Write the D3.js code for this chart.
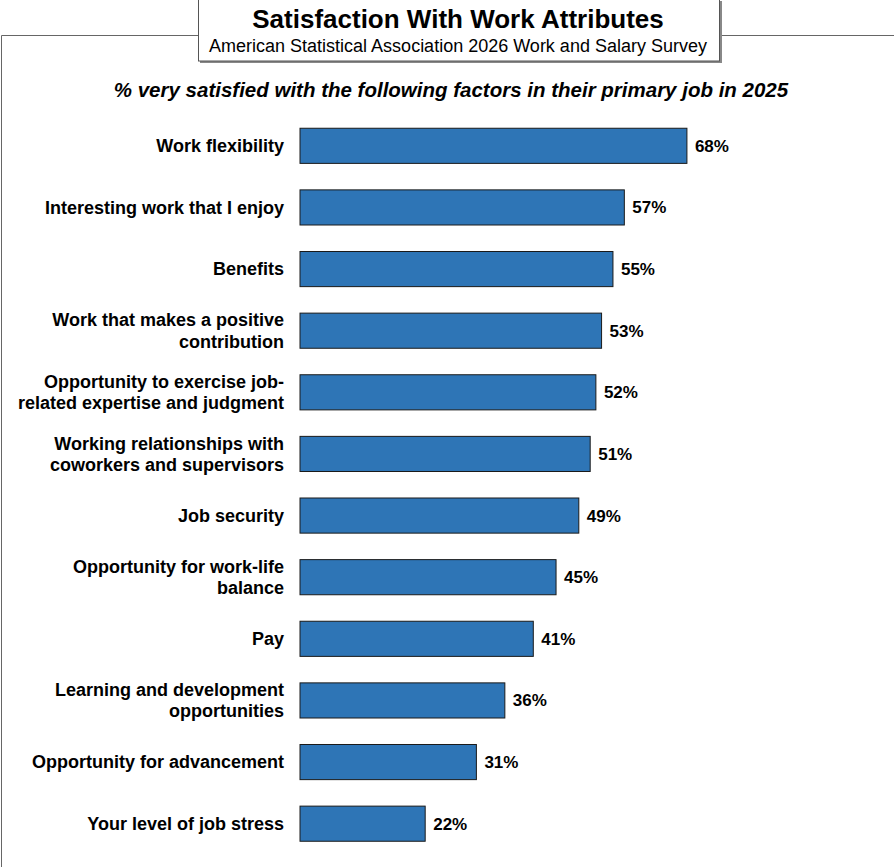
<!DOCTYPE html>
<html>
<head>
<meta charset="utf-8">
<script src="https://cdn.jsdelivr.net/npm/d3@7"></script>
<style>
  body { margin: 0; background: #fff; }
  svg { display: block; font-family: "Liberation Sans", Arial, sans-serif; }
</style>
</head>
<body>
<svg id="chart" width="894" height="867"></svg>
<script>
// satisfaction with work attributes, horizontal bars

const categories = [
  ["Work flexibility"],
  ["Interesting work that I enjoy"],
  ["Benefits"],
  ["Work that makes a positive", "contribution"],
  ["Opportunity to exercise job-", "related expertise and judgment"],
  ["Working relationships with", "coworkers and supervisors"],
  ["Job security"],
  ["Opportunity for work-life", "balance"],
  ["Pay"],
  ["Learning and development", "opportunities"],
  ["Opportunity for advancement"],
  ["Your level of job stress"]
];
const values = [68, 57, 55, 53, 52, 51, 49, 45, 41, 36, 31, 22];

const svg = d3.select("#chart");

// frame lines
svg.append("path")
  .attr("d", "M894,35.5 H1.5 V867")
  .attr("fill", "none")
  .attr("stroke", "#666")
  .attr("stroke-width", 1);

// title box with a small shadow
svg.append("rect")
  .attr("x", 200).attr("y", 1)
  .attr("width", 522).attr("height", 62)
  .attr("fill", "#888");
svg.append("rect")
  .attr("x", 198.5).attr("y", -1)
  .attr("width", 521).attr("height", 62)
  .attr("fill", "#fff")
  .attr("stroke", "#555")
  .attr("stroke-width", 1);

svg.append("text")
  .attr("x", 458).attr("y", 28)
  .attr("text-anchor", "middle")
  .attr("font-size", "26px")
  .attr("font-weight", "bold")
  .attr("fill", "#000")
  .text("Satisfaction With Work Attributes");

svg.append("text")
  .attr("x", 458).attr("y", 52)
  .attr("text-anchor", "middle")
  .attr("font-size", "18px")
  .attr("fill", "#000")
  .text("American Statistical Association 2026 Work and Salary Survey");

svg.append("text")
  .attr("x", 451).attr("y", 97)
  .attr("text-anchor", "middle")
  .attr("font-size", "20.5px")
  .attr("font-weight", "bold")
  .attr("font-style", "italic")
  .attr("fill", "#000")
  .text("% very satisfied with the following factors in their primary job in 2025");

const x = d3.scaleLinear().domain([0, 100]).range([300, 869]);
const y = d3.scaleBand()
  .domain(d3.range(values.length))
  .range([115, 854.5])
  .paddingInner(0.43)
  .paddingOuter(0.215);

const rows = svg.append("g").selectAll("g")
  .data(values)
  .join("g");

rows.append("rect")
  .attr("x", x(0))
  .attr("y", (d, i) => y(i))
  .attr("width", d => x(d) - x(0))
  .attr("height", y.bandwidth())
  .attr("fill", "#2E75B6")
  .attr("stroke", "#1a1a1a")
  .attr("stroke-width", 1);

rows.append("text")
  .attr("x", d => x(d) + 8)
  .attr("y", (d, i) => y(i) + y.bandwidth() / 2)
  .attr("dy", "0.35em")
  .attr("font-size", "17px")
  .attr("font-weight", "bold")
  .attr("fill", "#000")
  .text(d => d + "%");

rows.append("text")
  .attr("x", 284)
  .attr("y", (d, i) => y(i) + y.bandwidth() / 2)
  .attr("text-anchor", "end")
  .attr("font-size", "18px")
  .attr("font-weight", "bold")
  .attr("fill", "#000")
  .each(function(d, i) {
    const lines = categories[i];
    const t = d3.select(this);
    lines.forEach((ln, k) => {
      t.append("tspan")
        .attr("x", 284)
        .attr("dy", k === 0 ? (0.35 - (lines.length - 1) * 0.585) + "em" : "1.17em")
        .text(ln);
    });
  });
</script>
</body>
</html>
